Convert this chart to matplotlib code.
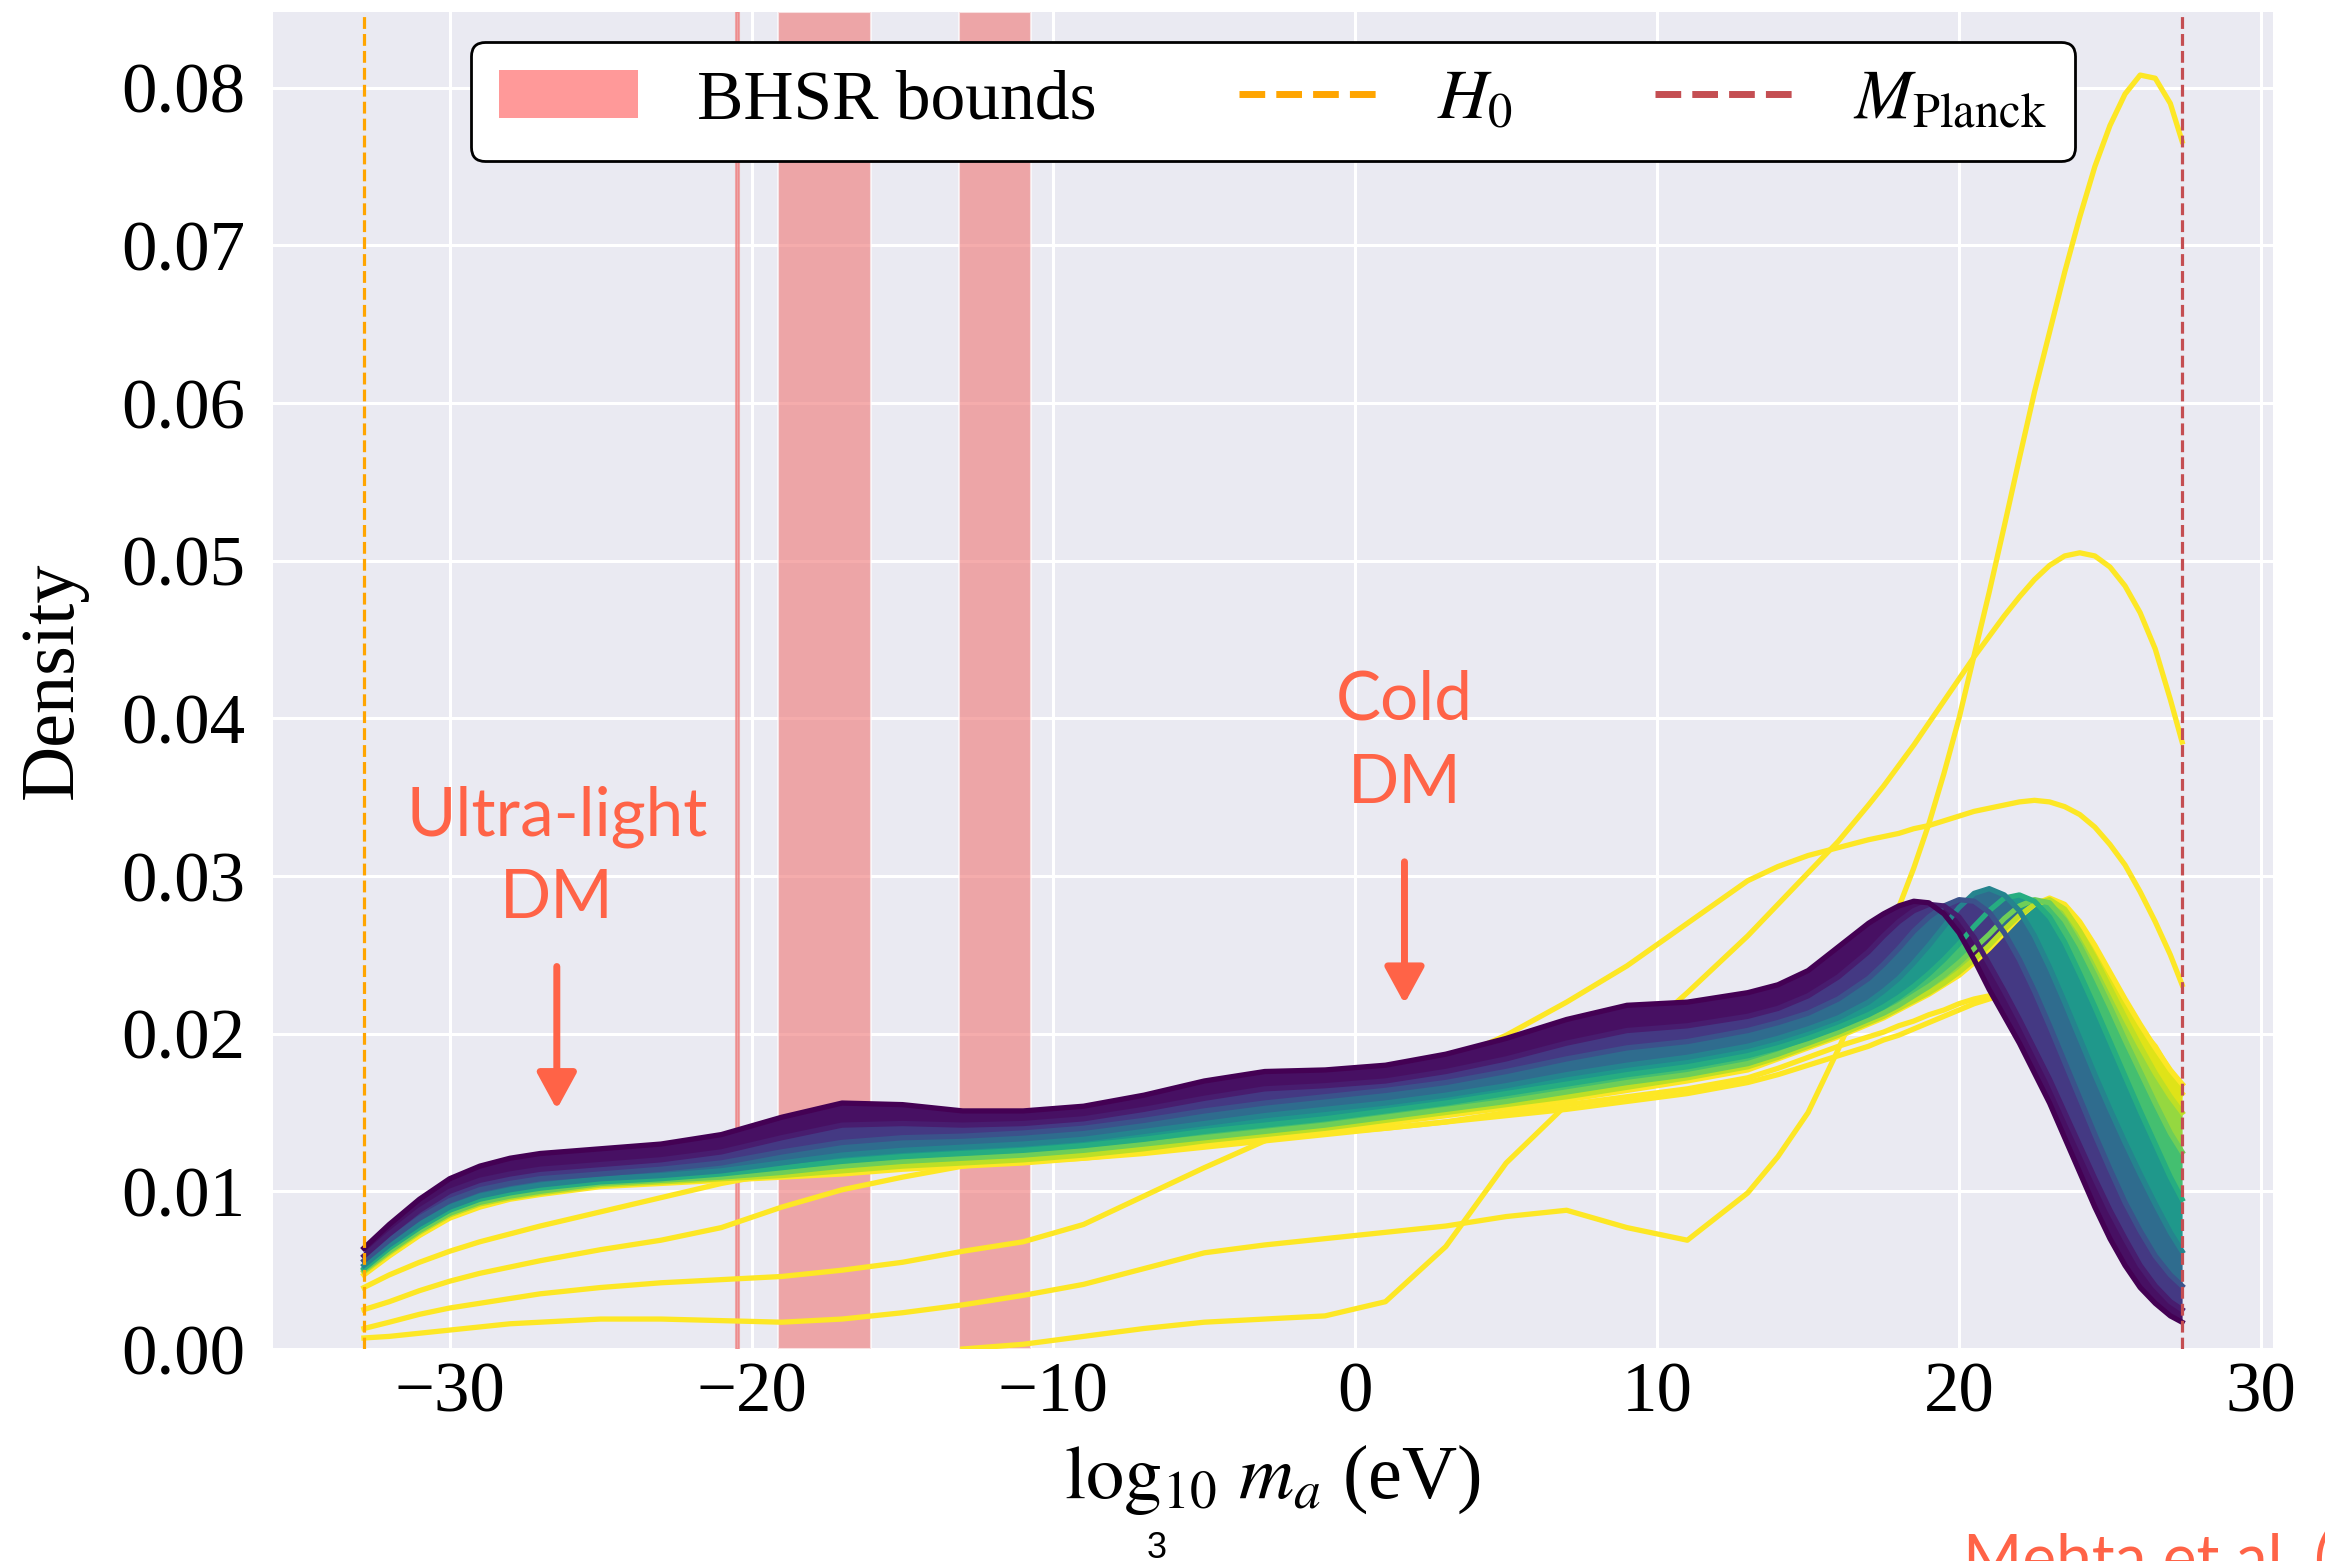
import numpy as np
import matplotlib
matplotlib.use("Agg")
import matplotlib.pyplot as plt
from matplotlib.patches import Patch
from matplotlib.lines import Line2D

plt.rcParams["font.family"] = ["Liberation Serif", "DejaVu Serif"]
plt.rcParams["mathtext.fontset"] = "stix"

# Reference scales (log10 of mass in eV)
LOG_H0 = -32.84
LOG_MPLANCK = 27.39
BHSR_WIDE = [(-19.12, -16.05), (-13.13, -10.74)]
BHSR_NARROW = [(-20.50, -20.40)]

# Evaluation grid of the density curves
log_m = [-32.84, -32, -31, -30, -29, -28, -27,
         -25, -23, -21, -19, -17, -15, -13, -11, -9, -7, -5, -3, -1, 1, 3, 5, 7, 9, 11, 13,
         14, 15, 16, 17, 17.5, 18, 18.5, 19, 19.5, 20, 20.5, 21, 21.5, 22, 22.5, 23, 23.5,
         24, 24.5, 25, 25.5, 26, 26.5, 27, 27.39]

# Bulk of the ensemble: members at a few positions along the colour sequence
band_levels = [0.00, 0.08, 0.25, 0.45, 0.62, 0.78, 0.90, 1.00]
band_0 = [.0064, .0079, .0095, .0108, .0116, .0121, .0124,
          .0127, .0130, .0136, .0147, .0156, .0155, .0151, .0151, .0154, .0161, .0170, .0176, .0177,
          .0180, .0187, .0197, .0209, .0218, .0220, .0226,
          .0231, .0240, .0255, .0270, .0276, .0281, .0284, .0283, .0276, .0264, .0247, .0228, .0211,
          .0194, .0175, .0156, .0134, .0112, .0090, .0070, .0053, .0039, .0029, .0021, .0017]
band_1 = [.0059, .0073, .0088, .0100, .0107, .0111, .0114,
          .0117, .0120, .0125, .0134, .0142, .0143, .0142, .0143, .0146, .0152, .0159, .0165, .0167,
          .0170, .0176, .0184, .0194, .0202, .0205, .0211,
          .0216, .0224, .0236, .0252, .0262, .0271, .0278, .0282, .0281, .0274, .0261, .0244, .0227,
          .0209, .0190, .0171, .0150, .0129, .0108, .0088, .0070, .0053, .0040, .0030, .0025]
band_2 = [.0056, .0069, .0083, .0094, .0101, .0105, .0108,
          .0111, .0114, .0118, .0125, .0131, .0134, .0135, .0137, .0140, .0145, .0151, .0156, .0160,
          .0164, .0169, .0176, .0184, .0191, .0195, .0202,
          .0207, .0213, .0222, .0235, .0244, .0254, .0265, .0274, .0281, .0285, .0284, .0277, .0264,
          .0247, .0227, .0205, .0182, .0159, .0136, .0114, .0093, .0075, .0059, .0047, .0040]
band_3 = [.0053, .0066, .0079, .0090, .0097, .0101, .0104,
          .0108, .0110, .0113, .0118, .0123, .0126, .0128, .0130, .0133, .0138, .0143, .0148, .0152,
          .0156, .0161, .0167, .0174, .0180, .0185, .0192,
          .0197, .0203, .0210, .0220, .0227, .0235, .0245, .0256, .0268, .0280, .0289, .0292, .0288,
          .0278, .0262, .0242, .0220, .0197, .0174, .0152, .0131, .0111, .0092, .0074, .0062]
band_4 = [.0051, .0064, .0077, .0088, .0095, .0099, .0102,
          .0106, .0108, .0111, .0115, .0119, .0122, .0124, .0126, .0129, .0133, .0138, .0142, .0146,
          .0151, .0156, .0162, .0168, .0174, .0179, .0186,
          .0191, .0197, .0204, .0212, .0217, .0223, .0230, .0238, .0247, .0257, .0268, .0278, .0286,
          .0288, .0284, .0274, .0258, .0238, .0217, .0195, .0173, .0151, .0130, .0109, .0095]
band_5 = [.0050, .0062, .0075, .0086, .0093, .0097, .0100,
          .0105, .0107, .0109, .0112, .0116, .0119, .0121, .0123, .0126, .0130, .0134, .0138, .0142,
          .0147, .0152, .0157, .0163, .0169, .0174, .0181,
          .0187, .0194, .0201, .0209, .0213, .0218, .0224, .0230, .0237, .0245, .0254, .0263, .0273,
          .0281, .0285, .0283, .0272, .0256, .0237, .0217, .0196, .0176, .0156, .0137, .0125]
band_6 = [.0049, .0061, .0074, .0085, .0092, .0096, .0099,
          .0104, .0106, .0108, .0110, .0113, .0116, .0118, .0120, .0123, .0127, .0132, .0136, .0140,
          .0145, .0150, .0155, .0160, .0166, .0172, .0179,
          .0185, .0192, .0199, .0207, .0211, .0216, .0221, .0226, .0232, .0239, .0247, .0256, .0266,
          .0275, .0282, .0285, .0279, .0265, .0248, .0229, .0210, .0192, .0175, .0160, .0150]
band_7 = [.0047, .0059, .0072, .0083, .0090, .0095, .0098,
          .0103, .0105, .0107, .0109, .0111, .0114, .0116, .0118, .0121, .0125, .0130, .0134, .0138,
          .0143, .0148, .0153, .0158, .0164, .0170, .0177,
          .0184, .0191, .0198, .0206, .0210, .0215, .0220, .0225, .0231, .0237, .0245, .0254, .0264,
          .0274, .0282, .0286, .0282, .0271, .0256, .0239, .0222, .0206, .0191, .0177, .0168]

# Outlying members at the top of the colour sequence
nan = float("nan")
outlier_a = [.0039, .0047, .0055, .0062, .0068, .0073, .0078,
             .0087, .0096, .0105, .0112, .0114, .0116, .0117, .0119, .0121, .0124, .0128, .0132, .0136,
             .0140, .0144, .0150, .0155, .0160, .0165, .0172,
             .0178, .0185, .0192, .0198, .0201, .0205, .0208, .0212, .0215, .0219, .0222, .0224, .0226,
             .0227, .0227, .0226, .0224, .0221, .0216, .0210, .0202, .0193, .0182, .0170, .0162]
outlier_b = [.0025, .0030, .0037, .0043, .0048, .0052, .0056,
             .0063, .0069, .0077, .0090, .0101, .0109, .0116, .0121, .0124, .0127, .0130, .0133, .0137,
             .0140, .0144, .0148, .0152, .0157, .0162, .0169,
             .0174, .0180, .0186, .0192, .0196, .0199, .0203, .0207, .0211, .0215, .0219, .0222, .0225,
             .0228, .0230, .0231, .0231, .0229, .0225, .0220, .0212, .0203, .0192, .0176, .0168]
outlier_c = [.0013, .0017, .0022, .0026, .0029, .0032, .0035,
             .0039, .0042, .0044, .0046, .0050, .0055, .0062, .0068, .0079, .0097, .0115, .0132, .0149,
             .0165, .0182, .0199, .0220, .0243, .0270, .0297,
             .0306, .0313, .0318, .0323, .0325, .0327, .0330, .0332, .0335, .0338, .0341, .0343, .0345,
             .0347, .0348, .0347, .0344, .0339, .0331, .0320, .0307, .0290, .0271, .0250, .0231]
outlier_d = [.0007, .0008, .0010, .0012, .0014, .0016, .0017,
             .0019, .0019, .0018, .0017, .0019, .0023, .0028, .0034, .0041, .0051, .0061, .0066, .0070,
             .0074, .0078, .0084, .0088, .0077, .0069, .0099,
             .0122, .0150, .0190, .0234, .0257, .0280, .0305, .0333, .0365, .0400, .0440, .0480, .0522,
             .0565, .0607, .0645, .0683, .0718, .0750, .0776, .0796, .0808, .0806, .0790, .0766]
outlier_e = [nan, nan, nan, nan, nan, nan, nan,
             nan, nan, nan, nan, nan, nan, .0000, .0003, .0008, .0013, .0017, .0019, .0021,
             .0030, .0065, .0118, .0155, .0192, .0226, .0262,
             .0282, .0302, .0322, .0345, .0357, .0370, .0383, .0397, .0411, .0425, .0439, .0452, .0465,
             .0477, .0488, .0497, .0503, .0505, .0503, .0496, .0484, .0467, .0444, .0412, .0385]

x_ticks = [-30, -20, -10, 0, 10, 20, 30]
y_ticks = [0.00, 0.01, 0.02, 0.03, 0.04, 0.05, 0.06, 0.07, 0.08]

BG = "#EAEAF2"
ACCENT = "tomato"
LW = 3.8

fig = plt.figure(figsize=(23.25, 15.61), dpi=100)
ax = fig.add_axes([0.11742, 0.13581, 0.86022, 0.85650])
ax.set_facecolor(BG)
for s in ax.spines.values():
    s.set_visible(False)
ax.set_axisbelow(True)
ax.grid(True, color="white", lw=2.2)

# Exclusion bands from black-hole superradiance
for lo, hi in BHSR_WIDE:
    ax.axvspan(lo, hi, facecolor="lightcoral", alpha=0.65, edgecolor="white", lw=1.5, zorder=1)
for lo, hi in BHSR_NARROW:
    ax.axvspan(lo, hi, color="lightcoral", alpha=0.65, lw=1.5, zorder=1)

cmap = plt.get_cmap("viridis")
x = np.array(log_m)

for ys in [outlier_a, outlier_b, outlier_c, outlier_d, outlier_e]:
    ax.plot(x, ys, color=cmap(1.0), lw=LW, zorder=2, solid_joinstyle="round")

bands = [band_0, band_1, band_2, band_3, band_4, band_5, band_6, band_7]
for k in reversed(range(len(bands) - 1)):
    mid = 0.5 * (band_levels[k] + band_levels[k + 1])
    ax.fill_between(x, bands[k], bands[k + 1], color=cmap(mid), lw=0, zorder=2.2)
for k in reversed(range(len(bands))):
    ax.plot(x, bands[k], color=cmap(band_levels[k]), lw=LW, zorder=2.5, solid_joinstyle="round")

ax.axvline(LOG_H0, color="orange", ls="--", lw=2.3, zorder=4)
ax.axvline(LOG_MPLANCK, color="#c44e52", ls="--", lw=2.3, zorder=4)

span = LOG_MPLANCK - LOG_H0
ax.set_xlim(LOG_H0 - 0.05 * span, LOG_MPLANCK + 0.05 * span)
ax.set_ylim(0, 0.0848)
ax.set_xticks(x_ticks)
ax.set_yticks(y_ticks)
ax.set_yticklabels([f"{v:.2f}" for v in y_ticks])
ax.tick_params(axis="both", length=0, labelsize=51)
ax.tick_params(axis="x", pad=9)
ax.tick_params(axis="y", pad=20)
ax.set_xlabel(r"$\log_{10}\,m_a$ (eV)", fontsize=55, labelpad=11)
ax.set_ylabel("Density", fontsize=55, labelpad=24)

handles = [Patch(facecolor="#ff9999", edgecolor="none"),
           Line2D([], [], color="orange", ls="--", lw=5),
           Line2D([], [], color="#c44e52", ls="--", lw=5)]
labels = ["BHSR bounds", r"$H_0$", r"$M_{\rm Planck}$"]
leg = ax.legend(handles, labels, loc="upper center", ncol=3, fontsize=50, frameon=True,
                fancybox=True, framealpha=1, facecolor="white", edgecolor="black",
                borderpad=0.4, borderaxespad=0.43, columnspacing=2.05, handletextpad=0.85)
leg.get_frame().set_linewidth(2)
leg.set_zorder(10)

# Mass-range annotations
sans = ["Lato", "DejaVu Sans"]
ax.text(-26.45, 0.03255, "Ultra-light", color=ACCENT, fontsize=48.5, family=sans,
        ha="center", va="baseline", zorder=6)
ax.text(-26.45, 0.02736, "DM", color=ACCENT, fontsize=48.5, family=sans,
        ha="center", va="baseline", zorder=6)
ax.text(1.63, 0.0399, "Cold", color=ACCENT, fontsize=48.5, family=sans,
        ha="center", va="baseline", zorder=6)
ax.text(1.63, 0.03464, "DM", color=ACCENT, fontsize=48.5, family=sans,
        ha="center", va="baseline", zorder=6)
arrow_kw = dict(arrowstyle="-|>,head_length=22,head_width=12", color=ACCENT, lw=5,
                mutation_scale=1, shrinkA=0, shrinkB=0)
ax.annotate("", xy=(-26.45, 0.0152), xytext=(-26.45, 0.02426), arrowprops=arrow_kw, zorder=6)
ax.annotate("", xy=(1.63, 0.0219), xytext=(1.63, 0.0309), arrowprops=arrow_kw, zorder=6)

fig.text(1157 / 2325, 1 - 1548 / 1561, "3", fontsize=26, family=["Liberation Sans", "DejaVu Sans"],
         ha="center", va="center")
fig.text(1963 / 2325, 1 - 1581 / 1561, "Mehta et al. (2021)", fontsize=46, family=sans,
         color=ACCENT, ha="left", va="baseline")

fig.savefig("out.png", dpi=100)
